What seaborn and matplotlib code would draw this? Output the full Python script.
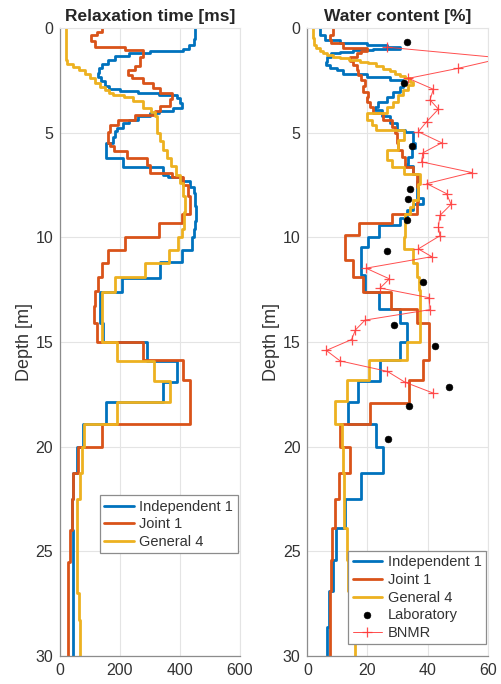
import numpy as np
import pandas as pd
import seaborn as sns
import matplotlib
matplotlib.use("Agg")
import matplotlib.pyplot as plt

# ---- relaxation time profiles [ms]: layer top depth [m] and value ----
rt_ind_top = [0, 0.5, 0.8, 1.0, 1.1, 1.2, 1.35, 1.5, 1.7, 1.9, 2.15, 2.35, 2.55, 2.75, 2.9, 3.0, 3.1, 3.2, 3.35, 3.6,
              3.8, 3.95, 4.05, 4.2, 4.4, 4.55, 4.75, 4.9, 5.2, 5.5, 6.2, 6.65, 7.0, 7.1, 7.3, 7.6, 7.9, 8.5, 9.2, 9.6,
              10.0, 10.6, 11.16, 11.95, 12.6, 13.3, 14.1, 15.0, 15.9, 16.9, 17.85, 18.9, 20.0, 21.25, 22.5, 24.0]
rt_ind_val = [450, 445, 430, 410, 300, 230, 185, 160, 140, 130, 128, 138, 150, 165, 200, 260, 330, 390, 400, 405,
              378, 330, 300, 261, 230, 211, 190, 183, 178, 153, 211, 344, 360, 405, 433, 445, 450, 453, 450, 445,
              439, 406, 333, 206, 133, 135, 144, 289, 389, 344, 153, 76, 56, 44, 39, 42]

rt_joint_top = [0, 0.2, 0.35, 0.6, 0.9, 1.05, 1.4, 1.8, 2.0, 2.25, 2.4, 2.6, 2.85, 3.1, 3.4, 3.7, 3.95, 4.15, 4.4, 4.65,
                4.95, 5.5, 5.65, 5.85, 6.2, 6.55, 6.9, 7.1, 7.5, 8.0, 8.86, 9.33, 9.97, 10.6, 11.2, 11.9, 12.55, 13.3,
                14.1, 15.0, 15.85, 16.8, 18.9, 20.0, 21.25, 22.5, 24.0, 25.5]
rt_joint_val = [139, 125, 105, 117, 217, 278, 267, 250, 228, 239, 278, 310, 333, 372, 367, 333, 317, 250, 194, 167,
                161, 167, 180, 222, 289, 300, 372, 411, 428, 433, 406, 330, 217, 161, 139, 128, 117, 114,
                122, 278, 411, 433, 139, 61, 44, 39, 33, 28]

rt_gen_top = [0, 1.0, 1.5, 1.7, 1.85, 2.0, 2.2, 2.4, 2.6, 2.8, 2.95, 3.1, 3.2, 3.3, 3.5, 3.8, 4.0, 4.2, 4.7, 5.0,
              5.4, 5.8, 6.2, 6.6, 7.0, 7.4, 8.0, 8.8, 9.6, 9.97, 10.6, 11.2, 11.9, 12.6, 15.0, 15.9, 16.85, 17.85,
              18.9, 20.0, 21.25, 22.5, 23.5, 27.0, 28.3]
rt_gen_val = [19, 20, 25, 45, 65, 83, 100, 118, 135, 150, 165, 178, 215, 244, 278, 305, 317, 322, 325, 335,
              345, 356, 370, 385, 400, 410, 417, 412, 406, 394, 364, 283, 183, 139, 189, 313, 367, 189,
              80, 72, 67, 58, 56, 62, 67]

# ---- water content profiles [%] ----
wc_ind_top = [0, 0.33, 0.57, 0.73, 0.82, 0.89, 1.0, 1.05, 1.13, 1.21, 1.37, 1.61, 1.77, 1.9, 2.0, 2.17, 2.32, 2.48,
              2.8, 3.04, 3.28, 3.52, 3.75, 3.9, 4.2, 4.55, 4.85, 4.95, 5.5, 5.75, 6.15, 6.5, 6.6, 6.95, 7.3, 8.1,
              8.4, 8.7, 9.05, 9.41, 9.97, 10.45, 11.8, 12.6, 13.4, 14.1, 15.0, 15.86, 16.85, 17.85, 18.9, 20.0,
              21.25, 22.5, 23.9, 25.4, 26.9, 28.6]
wc_ind_val = [4.2, 5.9, 10.9, 19.7, 26.4, 30.8, 22.0, 15.3, 10.9, 8.0, 6.4, 6.2, 7.5, 9.8, 12.0, 19.7, 27.5, 31.9,
              30.8, 28.6, 26.4, 23.6, 22.5, 24.7, 27.5, 29.7, 32.5, 35.3, 35.9, 34.7, 33.6, 33.0, 35.3, 36.9, 36.4, 38.6,
              35.3, 33.0, 30.8, 23.8, 20.3, 18.0, 19.2, 23.8, 30.8, 33.0, 30.8, 24.2, 17.0, 13.6, 23.0, 25.3,
              18.0, 12.5, 9.5, 8.4, 7.3, 6.4]

wc_joint_top = [0, 0.33, 0.57, 0.73, 0.97, 1.1, 1.21, 1.37, 1.55, 1.77, 2.0, 2.25, 2.5, 2.75, 3.04, 3.28, 3.52, 3.75,
                4.07, 4.39, 4.71, 5.03, 5.5, 5.83, 6.15, 6.63, 6.95, 7.6, 8.3, 8.86, 9.33, 9.89, 11.08, 11.88, 12.6,
                13.4, 14.1, 15.86, 16.82, 17.93, 18.9, 20.0, 21.25, 22.5, 23.9, 25.4, 26.9]
wc_joint_val = [8.6, 7.5, 8.0, 12.0, 19.7, 18.0, 16.4, 14.2, 15.3, 16.4, 17.0, 18.0, 19.2, 18.6, 20.3, 20.0, 20.8, 22.0,
                25.3, 28.0, 29.2, 29.7, 30.3, 31.4, 32.5, 35.3, 36.4, 36.9, 36.4, 28.0, 17.3, 12.5, 15.3, 18.6, 27.7,
                36.4, 40.5, 38.6, 33.9, 20.8, 10.9, 14.2, 10.6, 9.2, 8.1, 7.8, 7.5]

wc_gen_top = [0, 0.49, 0.8, 0.97, 1.1, 1.21, 1.3, 1.37, 1.45, 1.53, 1.61, 1.69, 1.81, 1.93, 2.05, 2.17, 2.3, 2.4,
              2.56, 2.72, 2.96, 3.2, 3.52, 3.75, 4.07, 4.4, 4.63, 4.87, 5.35, 5.83, 6.3, 6.63, 6.95, 7.43, 8.23,
              8.55, 8.87, 10.0, 10.55, 11.2, 11.9, 12.53, 15.0, 15.86, 16.82, 17.83, 18.9, 20.0, 21.25, 23.9,
              25.4, 26.9]
wc_gen_val = [2.0, 2.3, 3.0, 4.2, 5.2, 6.4, 8.5, 10.9, 14.0, 17.5, 20.3, 23.0, 25.3, 27.5, 29.2, 30.8, 32.5, 34.1,
              35.3, 33.6, 31.9, 30.3, 28.6, 26.4, 19.7, 21.5, 23.0, 32.0, 30.0, 26.4, 28.0, 32.0, 37.5, 36.9, 35.3,
              34.1, 32.5, 32.2, 35.0, 36.4, 37.0, 37.5, 33.3, 20.5, 13.1, 9.2, 11.4, 11.8, 12.3, 13.1,
              13.6, 15.9]

lab_depth = [0.67, 2.64, 5.62, 7.67, 8.15, 9.16, 10.65, 12.14, 14.18, 15.19, 17.17, 18.07, 19.62]
lab_wc = [33.3, 32.2, 34.7, 34.1, 33.6, 33.0, 26.4, 38.6, 28.9, 42.6, 47.0, 33.9, 26.7]

bnmr_depth = [0.91, 1.43, 1.92, 2.4, 2.92, 3.43, 3.87, 4.47, 4.95, 5.48, 5.96, 6.39, 6.9, 7.43, 7.91, 8.42, 8.95,
              9.49, 9.92, 10.55, 10.92, 11.47, 11.98, 12.42, 12.88, 13.45, 13.95, 14.42, 14.88, 15.4, 15.9, 16.4,
              16.92, 17.44]
bnmr_wc = [26.4, 65.0, 50.2, 33.6, 41.9, 40.8, 43.6, 39.7, 36.9, 44.7, 38.4, 38.0, 54.7, 39.7, 46.3, 47.8, 44.1,
           43.6, 44.1, 36.9, 41.4, 19.5, 27.3, 24.2, 40.5, 40.8, 19.2, 16.0, 14.7, 6.3, 10.9, 26.6,
           32.5, 41.9]

max_depth = 30
names = ["Independent 1", "Joint 1", "General 4"]
colors = ["#0072BD", "#D95319", "#EDB120"]
bnmr_color = "#ff3b3b"


def layers_to_steps(tops, vals):
    edges = list(tops) + [max_depth]
    d = np.repeat(edges, 2)[1:-1]
    v = np.repeat(vals, 2)
    return pd.DataFrame({"depth": d, "value": v})


sns.set_theme(style="white")
plt.rcParams["font.family"] = ["Liberation Sans", "DejaVu Sans"]

fig = plt.figure(figsize=(5.02, 6.84), dpi=100)
ax1 = fig.add_axes([0.1195, 0.0409, 0.3586, 0.918])
ax2 = fig.add_axes([0.6122, 0.0409, 0.3594, 0.918])

rt = [(rt_ind_top, rt_ind_val), (rt_joint_top, rt_joint_val), (rt_gen_top, rt_gen_val)]
wc = [(wc_ind_top, wc_ind_val), (wc_joint_top, wc_joint_val), (wc_gen_top, wc_gen_val)]

for (tops, vals), name, c in zip(rt, names, colors):
    df = layers_to_steps(tops, vals)
    sns.lineplot(data=df, x="value", y="depth", sort=False, estimator=None, color=c, lw=2, label=name, ax=ax1)

for (tops, vals), name, c in zip(wc, names, colors):
    df = layers_to_steps(tops, vals)
    sns.lineplot(data=df, x="value", y="depth", sort=False, estimator=None, color=c, lw=2, label=name, ax=ax2)

sns.scatterplot(x=lab_wc, y=lab_depth, color="black", s=24, edgecolor="black", zorder=5,
                label="Laboratory", ax=ax2)
sns.lineplot(x=bnmr_wc, y=bnmr_depth, sort=False, estimator=None, color=bnmr_color, lw=0.7, alpha=0.9,
             marker="+", markersize=7, markeredgewidth=0.9, markeredgecolor=bnmr_color,
             label="BNMR", ax=ax2)

for ax, xmax, xt in [(ax1, 600, [0, 200, 400, 600]), (ax2, 60, [0, 20, 40, 60])]:
    ax.set_xlim(0, xmax)
    ax.set_ylim(max_depth, 0)
    ax.set_xticks(xt)
    ax.set_yticks([0, 5, 10, 15, 20, 25, 30])
    ax.grid(True, color="#e4e4e4", lw=0.8)
    ax.set_axisbelow(True)
    ax.tick_params(direction="in", length=4, width=0.8, colors="#8c8c8c", labelcolor="#333333",
                   labelsize=11.5, pad=5)
    for side in ["left", "bottom"]:
        ax.spines[side].set_color("#8c8c8c")
        ax.spines[side].set_linewidth(0.9)
    for side in ["top", "right"]:
        ax.spines[side].set_color("#e4e4e4")
        ax.spines[side].set_linewidth(0.8)
    ax.set_xlabel("")
    ax.set_ylabel("Depth [m]", fontsize=13, color="#333333", labelpad=2)

ax1.set_title("Relaxation time [ms]", fontsize=12.5, fontweight="bold", pad=5)
ax2.set_title("Water content [%]", fontsize=12.5, fontweight="bold", pad=5)

leg_kw = dict(loc="lower right", fontsize=10.5, fancybox=False, framealpha=1, edgecolor="#8c8c8c",
              handlelength=2.0, borderpad=0.3, labelspacing=0.25, handletextpad=0.4, borderaxespad=0)
leg1 = ax1.legend(bbox_to_anchor=(0.987, 0.1635), **leg_kw)
leg2 = ax2.legend(bbox_to_anchor=(0.989, 0.0186), **leg_kw)
for leg in (leg1, leg2):
    leg.get_frame().set_linewidth(0.9)
    for t in leg.get_texts():
        t.set_color("#333333")

fig.savefig("out.png", dpi=100)
